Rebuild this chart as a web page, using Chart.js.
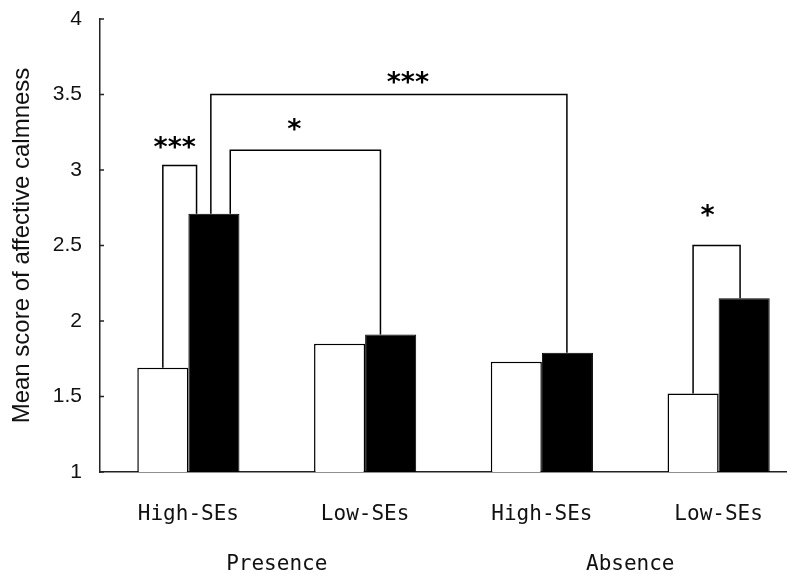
<!DOCTYPE html>
<html>
<head>
<meta charset="utf-8">
<script src="https://cdn.jsdelivr.net/npm/chart.js@4.4.0/dist/chart.umd.min.js"></script>
<style>
  html, body { margin: 0; padding: 0; background: #fff; overflow: hidden; }
  #wrap { width: 787px; height: 574px; overflow: hidden; }
</style>
</head>
<body>
<div id="wrap"><canvas id="calmChart" width="807" height="574"></canvas></div>
<script>
const categories = ['High-SEs', 'Low-SEs', 'High-SEs', 'Low-SEs'];
const groups = ['Presence', 'Absence'];
const whiteValues = [1.69, 1.85, 1.73, 1.52];
const blackValues = [2.71, 1.91, 1.79, 2.15];
const yTicks = [1, 1.5, 2, 2.5, 3, 3.5, 4];

// significance brackets: legs are [dataset, bar index, place across the bar]
const brackets = [
  { from: [0, 0, 0.5], to: [1, 0, 0.16], top: 3.03, label: '***', dx: -5, dy: 19 },
  { from: [1, 0, 0.44], to: [1, 2, 0.49], top: 3.5, label: '***', dx: 19, dy: 14 },
  { from: [1, 0, 0.82], to: [1, 1, 0.3], top: 3.13, label: '*', dx: -11, dy: 22 },
  { from: [0, 3, 0.5], to: [1, 3, 0.42], top: 2.5, label: '*', dx: -9, dy: 32 }
];

const tickFont = { family: '"DejaVu Sans Mono", monospace', size: 21 };
const numFont = { family: '"Liberation Sans", Arial, sans-serif', size: 21 };

const bracketPlugin = {
  id: 'brackets',
  afterDatasetsDraw(chart) {
    const ctx = chart.ctx;
    const y = chart.scales.y;
    const left = chart.chartArea.left;
    ctx.save();
    ctx.strokeStyle = '#222';
    ctx.lineWidth = 1.5;
    // small tick marks pointing into the plot
    y.ticks.forEach(t => {
      const py = y.getPixelForValue(t.value);
      ctx.beginPath();
      ctx.moveTo(left, py);
      ctx.lineTo(left + 4, py);
      ctx.stroke();
    });
    const leg = (ref) => {
      const bar = chart.getDatasetMeta(ref[0]).data[ref[1]];
      return { x: bar.x - bar.width / 2 + ref[2] * bar.width, y: bar.y };
    };
    ctx.strokeStyle = '#000';
    ctx.fillStyle = '#000';
    ctx.font = 'bold 27px "DejaVu Sans", sans-serif';
    ctx.textAlign = 'center';
    ctx.textBaseline = 'alphabetic';
    brackets.forEach(b => {
      const a = leg(b.from), c = leg(b.to);
      const ty = y.getPixelForValue(b.top);
      ctx.beginPath();
      ctx.moveTo(a.x, a.y);
      ctx.lineTo(a.x, ty);
      ctx.lineTo(c.x, ty);
      ctx.lineTo(c.x, c.y);
      ctx.stroke();
      ctx.fillText(b.label, (a.x + c.x) / 2 + b.dx, ty - b.dy + 10);
    });
    ctx.restore();
  }
};

const calmChart = new Chart(document.getElementById('calmChart'), {
  type: 'bar',
  data: {
    labels: categories,
    datasets: [{
      label: 'white',
      data: whiteValues,
      backgroundColor: '#ffffff',
      borderColor: '#000000',
      borderWidth: 1.5
    }, {
      label: 'black',
      data: blackValues,
      backgroundColor: '#000000',
      borderColor: '#000000',
      borderWidth: 1
    }]
  },
  options: {
    responsive: false,
    animation: false,
    datasets: {
      bar: { categoryPercentage: 0.578, barPercentage: 1 }
    },
    layout: { padding: { top: 19, left: 0, right: 0, bottom: 0 } },
    plugins: {
      legend: { display: false },
      tooltip: { enabled: false }
    },
    scales: {
      x: {
        weight: 0,
        offset: true,
        grid: { display: false, drawTicks: false },
        border: { display: true, color: '#222', width: 1.5 },
        ticks: { font: tickFont, color: '#111', padding: 30, maxRotation: 0 },
        afterFit(scale) { scale.height = 60; }
      },
      group: {
        type: 'category',
        labels: groups,
        position: 'bottom',
        weight: 1,
        offset: true,
        grid: { display: false, drawTicks: false },
        border: { display: false },
        ticks: { font: tickFont, color: '#111', padding: 20, maxRotation: 0 },
        afterFit(scale) { scale.height = 42; }
      },
      y: {
        min: 1,
        max: 4,
        grid: { display: false, drawTicks: false },
        border: { display: true, color: '#222', width: 1.5 },
        ticks: { font: numFont, color: '#111', padding: 18, callback: v => String(v) },
        afterBuildTicks(scale) { scale.ticks = yTicks.map(v => ({ value: v })); },
        title: {
          display: true,
          text: 'Mean score of affective calmness',
          font: { family: '"Liberation Sans", Arial, sans-serif', size: 24 },
          color: '#111',
          padding: { top: 8, bottom: 0 }
        },
        afterFit(scale) {
          scale.width = 100;
          scale.paddingTop = 0;
          scale.paddingBottom = 0;
        }
      }
    }
  },
  plugins: [bracketPlugin]
});
</script>
</body>
</html>
